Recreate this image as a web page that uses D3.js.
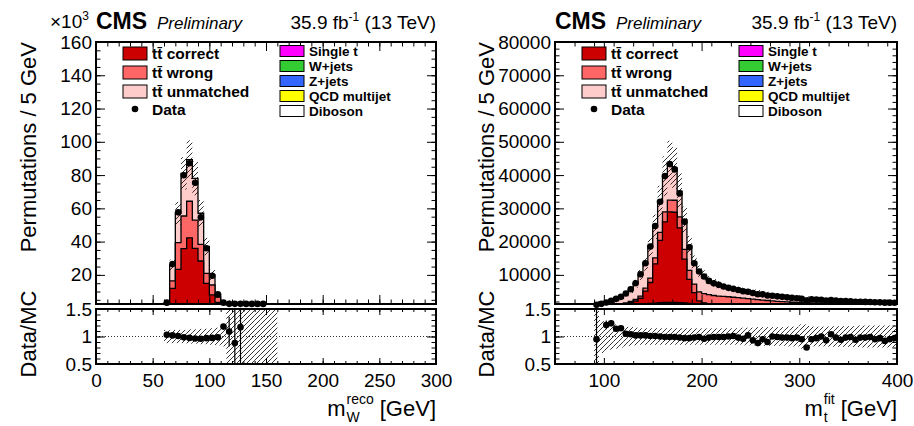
<!DOCTYPE html>
<html>
<head>
<meta charset="utf-8">
<script src="https://cdn.jsdelivr.net/npm/d3@7/dist/d3.min.js"></script>
<style>
body { margin: 0; background: #fff; }
text { font-family: "Liberation Sans", Arial, Helvetica, sans-serif; }
</style>
</head>
<body>
<svg id="chart" width="914" height="426"></svg>
<script>

/******************** left panel: m_W reco, 5 GeV bins, x10^3 ********************/
var wLow = [60,65,70,75,80,85,90,95,100,105,110,115,120,125,130,135,140,145,150,155];
var wData = [3.3,26.5,57.6,79.9,87.1,75.4,54.6,36.0,19.5,8.3,3.3,2.6,2.6,2.6,2.55,2.55,2.55,2.55,null,null];
var wCorrect = [1.0,11.2,22,34,40,34,27,14,7.5,3.3,0.7,0.4,0.25,0.15,0.1,0.08,0.05,0.04,0.03,0.02];
var wWrong = [0.7,4.5,16,19.6,22,17,10,6,6,3.2,1.0,0.6,0.4,0.3,0.2,0.15,0.1,0.08,0.05,0.05];
var wUnmatched = [1.4,9.6,17.7,25.6,25.0,25.1,18.7,16.2,6.1,1.7,1.0,1.3,0.9,0.7,0.6,0.5,0.3,0.3,0.2,0.1];
var wSingleT = [0.1,0.5,0.9,1.2,1.5,1.3,0.9,0.6,0.3,0.15,0.08,0.05,0.03,0.02,0.02,0.01,0.01,0.01,0.01,0.01];
var wWjets = [0.02,0.1,0.15,0.2,0.25,0.2,0.15,0.1,0.05,0.03,0.02,0.01,0.01,0,0,0,0,0,0,0];
var wZjets = [0.01,0.03,0.05,0.06,0.07,0.06,0.05,0.03,0.02,0.01,0.01,0,0,0,0,0,0,0,0,0];
var wQcd = [0,0.1,0.2,0.3,0.4,0.3,0.2,0.1,0.05,0,0,0,0,0,0,0,0,0,0,0];
var wDiboson = [0,0.02,0.04,0.05,0.05,0.05,0.04,0.02,0.01,0,0,0,0,0,0,0,0,0,0,0];
var wUnc = [0.12,0.12,0.12,0.12,0.13,0.13,0.14,0.14,0.15,0.16,0.18,1,1,1,1,1,1,1,1,1];
var wRatio = [1.03,1.02,1.01,0.985,0.975,0.965,0.96,0.97,0.975,0.985,1.18,1.09,0.88,1.17,null,null,null,null,null,null];
var wRatioErr = [0.01,0.01,0.01,0.01,0.01,0.01,0.01,0.01,0.01,0.02,0.04,0.27,0.7,0.8,null,null,null,null,null,null];

/******************** right panel: m_t fit, 5 GeV bins ********************/
var tLow = [90,95,100,105,110,115,120,125,130,135,140,145,150,155,160,165,170,175,180,185,
            190,195,200,205,210,215,220,225,230,235,240,245,250,255,260,265,270,275,280,285,
            290,295,300,305,310,315,320,325,330,335,340,345,350,355,360,365,370,375,380,385,390,395];
var tData = [1000,1300,1700,2200,2800,3400,4400,5700,7500,10200,
             13500,18500,24700,32000,39700,43300,41700,34500,26000,18300,
             13500,11000,9500,8200,7500,7000,6500,6100,5800,5450,
             5100,4950,4550,4200,4150,3800,3750,3550,3400,3250,
             3100,2980,2820,2300,2700,2580,2520,2300,2400,2250,
             2120,2100,2040,1930,1930,1880,1840,1760,1740,1650,
             1650,1640];
var tCorrect = [0,20,50,100,180,300,450,700,1100,1800,
                3800,6300,11800,18700,24200,27200,27100,22500,13200,7200,
                3300,900,400,200,120,90,70,60,50,45,
                40,38,36,34,32,30,28,26,24,22,
                20,19,18,17,16,15,14,13,12,11,
                10,10,9,9,8,8,7,7,6,6,
                5,5];
var tWrong = [30,50,80,120,170,230,300,380,480,620,
              900,1300,1800,2400,3000,3500,3600,3300,2900,2700,
              2600,2700,2750,2700,2600,2500,2450,2400,2300,2200,
              2080,1960,1850,1740,1640,1540,1450,1360,1280,1200,
              1130,1100,1080,1070,1060,1050,1040,1030,1020,1010,
              1000,990,980,970,960,950,940,930,920,910,
              900,890];
var tUnmatched = [740,810,820,1010,1470,1690,2610,3470,4720,6410,
                  7240,9300,9320,9250,10770,11270,9690,7750,8880,7520,
                  6530,6240,5540,4320,3770,3430,3040,2670,2460,2420,
                  2330,2020,2200,2220,1950,1930,1570,1520,1500,1450,
                  1430,1320,1290,1250,1220,1070,960,940,800,810,
                  800,710,650,670,600,570,540,550,510,530,
                  500,470];
var tSingleT = [150,200,250,300,350,400,450,500,560,620,
                680,740,800,860,900,920,900,860,800,740,
                690,650,620,590,560,540,520,500,480,465,
                450,435,420,405,390,380,370,360,350,340,
                330,320,310,300,290,282,275,268,260,252,
                245,238,230,224,218,212,206,200,195,190,
                185,180];
var tQcd = [60,80,100,120,150,180,210,240,280,320,
            360,400,440,470,490,500,490,470,440,410,
            380,360,340,320,300,290,280,270,260,250,
            240,232,224,216,208,200,193,186,179,172,
            166,160,154,148,143,138,133,128,124,120,
            116,112,108,104,100,97,94,91,88,85,
            82,80];
var tWjets = [40,50,60,70,80,90,100,110,125,140,
              155,170,185,200,210,215,210,200,190,180,
              170,160,152,145,138,132,126,120,115,110,
              106,102,98,94,90,87,84,81,78,75,
              72,70,68,66,64,62,60,58,56,54,
              52,50,49,48,47,46,45,44,43,42,
              41,40];
var tZjets = [20,25,30,35,40,45,50,55,60,65,
              70,75,80,85,90,92,90,85,80,76,
              72,68,65,62,59,56,54,52,50,48,
              46,44,42,40,39,38,37,36,35,34,
              33,32,31,30,29,28,27,26,25,24,
              23,22,22,21,21,20,20,19,19,18,
              18,17];
var tDiboson = [10,12,14,16,18,20,22,24,26,28,
                30,32,34,36,38,40,40,39,38,37,
                36,35,34,33,32,31,30,29,28,27,
                26,25,24,23,22,21,20,20,19,19,
                18,18,17,17,16,16,15,15,14,14,
                13,13,12,12,12,11,11,11,10,10,
                10,10];
var tUnc = [1,0.3,0.26,0.24,0.22,0.2,0.18,0.17,0.16,0.15,
            0.15,0.15,0.15,0.15,0.15,0.15,0.15,0.15,0.15,0.15,
            0.15,0.15,0.15,0.15,0.15,0.15,0.15,0.15,0.15,0.15,
            0.16,0.16,0.16,0.17,0.17,0.17,0.17,0.17,0.17,0.18,
            0.18,0.18,0.22,0.22,0.18,0.18,0.18,0.18,0.19,0.19,
            0.19,0.19,0.19,0.19,0.2,0.2,0.2,0.2,0.2,0.2,
            0.2,0.2];
var tRatio = [0.95,null,1.21,1.24,1.14,1.15,1.05,1.04,1.02,1.02,
              1.02,1.01,1.01,1.0,0.99,0.99,0.99,0.98,0.97,0.97,
              0.98,0.99,0.96,0.98,0.99,0.99,0.99,1.0,1.01,0.98,
              0.96,1.02,0.93,0.88,0.95,0.90,1.0,0.99,0.98,0.98,
              0.97,0.98,0.95,0.8,0.95,0.97,1.0,0.93,1.04,0.98,
              0.94,0.98,0.99,0.94,0.98,0.98,0.99,0.95,0.97,0.92,
              0.95,0.97];
var tRatioErr = [1.0,null,0.08,0.06,0.05,0.04,0.03,0.03,0.02,0.02,
                 0.015,0.01,0.01,0.01,0.01,0.01,0.01,0.01,0.01,0.01,
                 0.01,0.01,0.015,0.015,0.015,0.015,0.02,0.02,0.02,0.02,
                 0.02,0.02,0.02,0.02,0.02,0.02,0.02,0.02,0.025,0.025,
                 0.025,0.025,0.025,0.03,0.03,0.03,0.03,0.03,0.03,0.03,
                 0.03,0.03,0.03,0.03,0.035,0.035,0.035,0.035,0.035,0.035,
                 0.035,0.035];

// tick labels
var wXTicks = [0,50,100,150,200,250,300];
var wYTicks = [20,40,60,80,100,120,140,160];
var tXTicks = [100,200,300,400];
var tYTicks = [10000,20000,30000,40000,50000,60000,70000,80000];
var rYTicks = [0.5,1,1.5];

/******************** drawing ********************/
var svg = d3.select("#chart");
var defs = svg.append("defs");
defs.append("pattern").attr("id", "hatch")
    .attr("patternUnits", "userSpaceOnUse")
    .attr("width", 5).attr("height", 5)
  .append("path")
    .attr("d", "M-1,1L1,-1M0,5L5,0M4,6L6,4")
    .attr("stroke", "#000").attr("stroke-width", 0.8);

var mainTop = 42, mainBottom = 304, ratioTop = 309, ratioBottom = 364;
var keys = ["diboson", "qcd", "zjets", "wjets", "singlet", "correct", "wrong", "unmatched"];
var fills = { correct: "#cc0000", wrong: "#ff6666", unmatched: "#ffcccc", singlet: "#ff00ff",
              wjets: "#33cc33", zjets: "#3366ff", qcd: "#ffff00", diboson: "#ffffff" };

function steps(p, x, y, tops, base) {
    var d = "M" + x(p.low[0]) + "," + base;
    tops.forEach(function (v, i) {
        d += "L" + x(p.low[i]) + "," + y(v) + "L" + x(p.low[i] + p.bw) + "," + y(v);
    });
    return d + "L" + x(p.low[p.low.length - 1] + p.bw) + "," + base;
}

function axisFont(g, size) {
    g.attr("font-family", "'Liberation Sans', Arial, sans-serif").attr("font-size", size);
    g.select(".domain").remove();
    g.selectAll("line").attr("stroke-width", 1);
}

function drawPanel(p) {
    var x = d3.scaleLinear().domain(p.xDomain).range([p.x0, p.x1]);
    var y = d3.scaleLinear().domain(p.yDomain).range([mainBottom, mainTop]);
    var yr = d3.scaleLinear().domain([0.5, 1.5]).range([ratioBottom, ratioTop]);
    var g = svg.append("g");

    defs.append("clipPath").attr("id", "cm" + p.id).append("rect")
        .attr("x", p.x0).attr("y", mainTop).attr("width", p.x1 - p.x0).attr("height", mainBottom - mainTop);
    defs.append("clipPath").attr("id", "cr" + p.id).append("rect")
        .attr("x", p.x0).attr("y", ratioTop).attr("width", p.x1 - p.x0).attr("height", ratioBottom - ratioTop);

    // stacked MC
    var rows = p.low.map(function (lo, i) {
        var r = { lo: lo };
        keys.forEach(function (k) { r[k] = p.mc[k][i]; });
        return r;
    });
    var series = d3.stack().keys(keys)(rows);
    var totals = series[series.length - 1].map(function (s) { return s[1]; });
    var base = mainBottom + 20;

    var gm = g.append("g").attr("clip-path", "url(#cm" + p.id + ")");
    series.slice().reverse().forEach(function (s) {
        var tops = s.map(function (d) { return d[1]; });
        gm.append("path").attr("d", steps(p, x, y, tops, base) + "Z")
            .attr("fill", fills[s.key]).attr("stroke", "none");
        gm.append("path").attr("d", steps(p, x, y, tops, base))
            .attr("fill", "none").attr("stroke", "#000").attr("stroke-width", 1.3);
    });

    // MC uncertainty band
    gm.selectAll("rect.unc").data(p.low).enter().append("rect")
        .attr("x", function (d) { return x(d); })
        .attr("width", function (d) { return x(d + p.bw) - x(d); })
        .attr("y", function (d, i) { return y(totals[i] * (1 + p.unc[i])); })
        .attr("height", function (d, i) {
            var lo = p.unc[i] >= 1 ? base : y(totals[i] * (1 - p.unc[i]));
            return Math.max(0, lo - y(totals[i] * (1 + p.unc[i])));
        })
        .attr("fill", "url(#hatch)");

    // data points
    g.selectAll("circle.data").data(p.data.map(function (v, i) { return [p.low[i] + p.bw / 2, v]; })
            .filter(function (d) { return d[1] !== null; }))
        .enter().append("circle")
        .attr("cx", function (d) { return x(d[0]); })
        .attr("cy", function (d) { return Math.min(y(d[1]), mainBottom + 1); })
        .attr("r", 3.3).attr("fill", "#000");

    // ratio panel
    var gr = g.append("g").attr("clip-path", "url(#cr" + p.id + ")");
    gr.selectAll("rect").data(p.low).enter().append("rect")
        .attr("x", function (d) { return x(d); })
        .attr("width", function (d) { return x(d + p.bw) - x(d); })
        .attr("y", function (d, i) { return p.unc[i] >= 1 ? ratioTop : yr(1 + p.unc[i]); })
        .attr("height", function (d, i) {
            return p.unc[i] >= 1 ? ratioBottom - ratioTop : yr(1 - p.unc[i]) - yr(1 + p.unc[i]);
        })
        .attr("fill", "url(#hatch)");
    gr.append("line").attr("x1", p.x0).attr("x2", p.x1).attr("y1", yr(1)).attr("y2", yr(1))
        .attr("stroke", "#000").attr("stroke-width", 0.8).attr("stroke-dasharray", "1,2");
    var pts = p.ratio.map(function (v, i) { return [p.low[i] + p.bw / 2, v, p.ratioErr[i]]; })
        .filter(function (d) { return d[1] !== null; });
    gr.selectAll("line.err").data(pts).enter().append("line")
        .attr("x1", function (d) { return x(d[0]); }).attr("x2", function (d) { return x(d[0]); })
        .attr("y1", function (d) { return yr(d[1] + d[2]); })
        .attr("y2", function (d) { return yr(d[1] - d[2]); })
        .attr("stroke", "#000").attr("stroke-width", 1.2);
    gr.selectAll("circle").data(pts).enter().append("circle")
        .attr("cx", function (d) { return x(d[0]); })
        .attr("cy", function (d) { return yr(d[1]); })
        .attr("r", 3.3).attr("fill", "#000");

    // frames
    [[mainTop, mainBottom], [ratioTop, ratioBottom]].forEach(function (f) {
        g.append("rect").attr("x", p.x0).attr("y", f[0]).attr("width", p.x1 - p.x0).attr("height", f[1] - f[0])
            .attr("fill", "none").attr("stroke", "#000").attr("stroke-width", 2);
    });

    // ticks: main panel
    var yMinor = d3.range(p.yMinorStep, p.yDomain[1], p.yMinorStep).filter(function (v) { return v > p.yDomain[0]; });
    var ax;
    ax = g.append("g").attr("transform", "translate(" + p.x0 + ",0)")
        .call(d3.axisLeft(y).tickValues(p.yTicks).tickSize(-9).tickPadding(4).tickFormat(d3.format("d")));
    axisFont(ax, 19);
    ax = g.append("g").attr("transform", "translate(" + p.x0 + ",0)")
        .call(d3.axisLeft(y).tickValues(yMinor).tickSize(-4.5).tickFormat(""));
    axisFont(ax, 19);
    ax = g.append("g").attr("transform", "translate(" + p.x1 + ",0)")
        .call(d3.axisRight(y).tickValues(p.yTicks).tickSize(-9).tickFormat(""));
    axisFont(ax, 19);
    ax = g.append("g").attr("transform", "translate(" + p.x1 + ",0)")
        .call(d3.axisRight(y).tickValues(yMinor).tickSize(-4.5).tickFormat(""));
    axisFont(ax, 19);

    var xMinor = d3.range(p.xDomain[0], p.xDomain[1] + 0.1, p.xMinorStep);
    [[mainTop, d3.axisTop, 9, 4.5], [mainBottom, d3.axisBottom, 9, 4.5],
     [ratioTop, d3.axisTop, 6, 3], [ratioBottom, d3.axisBottom, 6, 3]].forEach(function (t) {
        ax = g.append("g").attr("transform", "translate(0," + t[0] + ")")
            .call(t[1](x).tickValues(p.xTicks).tickSize(-t[2]).tickFormat(""));
        axisFont(ax, 19);
        ax = g.append("g").attr("transform", "translate(0," + t[0] + ")")
            .call(t[1](x).tickValues(xMinor).tickSize(-t[3]).tickFormat(""));
        axisFont(ax, 19);
    });
    ax = g.append("g").attr("transform", "translate(0," + ratioBottom + ")")
        .call(d3.axisBottom(x).tickValues(p.xTicks).tickSize(0).tickPadding(10).tickFormat(d3.format("d")));
    axisFont(ax, 19);

    // ticks: ratio panel
    var rMinor = d3.range(0.6, 1.45, 0.1);
    ax = g.append("g").attr("transform", "translate(" + p.x0 + ",0)")
        .call(d3.axisLeft(yr).tickValues(rYTicks).tickSize(-9).tickPadding(4).tickFormat(d3.format("")));
    axisFont(ax, 19);
    ax = g.append("g").attr("transform", "translate(" + p.x0 + ",0)")
        .call(d3.axisLeft(yr).tickValues(rMinor).tickSize(-4.5).tickFormat(""));
    axisFont(ax, 19);
    ax = g.append("g").attr("transform", "translate(" + p.x1 + ",0)")
        .call(d3.axisRight(yr).tickValues(rYTicks).tickSize(-9).tickFormat(""));
    axisFont(ax, 19);
    ax = g.append("g").attr("transform", "translate(" + p.x1 + ",0)")
        .call(d3.axisRight(yr).tickValues(rMinor).tickSize(-4.5).tickFormat(""));
    axisFont(ax, 19);

    // axis titles
    g.append("text").attr("transform", "translate(" + p.yTitleX + "," + mainTop + ") rotate(-90)")
        .attr("text-anchor", "end").attr("font-size", 22).text("Permutations / 5 GeV");
    g.append("text").attr("transform", "translate(" + p.yTitleX + ",334) rotate(-90)")
        .attr("text-anchor", "middle").attr("font-size", 22).text("Data/MC");

    var gev = g.append("text").attr("x", p.x1).attr("y", 416).attr("text-anchor", "end")
        .attr("font-size", 22).text("[GeV]");
    var gevW = gev.node().getComputedTextLength();
    var sup = g.append("text").attr("y", 404).attr("font-size", 14).text(p.sup);
    var sub = g.append("text").attr("y", 422).attr("font-size", 14).text(p.sub);
    var sw = Math.max(sup.node().getComputedTextLength(), sub.node().getComputedTextLength());
    var sx = p.x1 - gevW - 6 - sw;
    sup.attr("x", sx);
    sub.attr("x", sx);
    g.append("text").attr("x", sx - 1).attr("y", 416).attr("text-anchor", "end")
        .attr("font-size", 22).text("m");

    // header
    g.append("text").attr("x", p.x0).attr("y", 29).attr("font-size", 23).attr("font-weight", "bold").text("CMS");
    g.append("text").attr("x", p.x0 + 61).attr("y", 29).attr("font-size", 17).attr("font-style", "italic").text("Preliminary");
    var lumi = g.append("text").attr("x", p.x1).attr("y", 29).attr("text-anchor", "end").attr("font-size", 19);
    lumi.append("tspan").text("35.9 fb");
    lumi.append("tspan").attr("font-size", 12).attr("dy", -8).text("-1");
    lumi.append("tspan").attr("dy", 8).text(" (13 TeV)");
    if (p.exponent) {
        var ex = g.append("text").attr("x", 50).attr("y", 28).attr("font-size", 19);
        ex.append("tspan").text("\u00d710");
        ex.append("tspan").attr("font-size", 12).attr("dy", -8).text("3");
    }

    // legend
    var dx = p.x0 - 96;
    var lg = g.append("g").attr("transform", "translate(" + dx + ",0)").attr("font-weight", "bold");
    [["correct", "t\u0074\u0304 correct", 53.5], ["wrong", "t\u0074\u0304 wrong", 72.5],
     ["unmatched", "t\u0074\u0304 unmatched", 91.5]].forEach(function (e) {
        lg.append("rect").attr("x", 123).attr("y", e[2] - 6.5).attr("width", 24).attr("height", 13)
            .attr("fill", fills[e[0]]).attr("stroke", "#000").attr("stroke-width", 1);
        lg.append("text").attr("x", 152).attr("y", e[2] + 5.5).attr("font-size", 15.5).text(e[1]);
    });
    lg.append("circle").attr("cx", 135).attr("cy", 109).attr("r", 3.3).attr("fill", "#000");
    lg.append("text").attr("x", 152).attr("y", 114.5).attr("font-size", 15.5).text("Data");
    [["singlet", "Single t", 51], ["wjets", "W+jets", 66], ["zjets", "Z+jets", 81],
     ["qcd", "QCD multijet", 96], ["diboson", "Diboson", 111]].forEach(function (e) {
        lg.append("rect").attr("x", 280).attr("y", e[2] - 5.5).attr("width", 24).attr("height", 11)
            .attr("fill", fills[e[0]]).attr("stroke", "#000").attr("stroke-width", 1);
        lg.append("text").attr("x", 309).attr("y", e[2] + 5).attr("font-size", 13.5).text(e[1]);
    });
}

drawPanel({
    id: "w", x0: 96, x1: 436, xDomain: [0, 300], yDomain: [2.5, 160],
    low: wLow, bw: 5, data: wData, unc: wUnc, ratio: wRatio, ratioErr: wRatioErr,
    mc: { correct: wCorrect, wrong: wWrong, unmatched: wUnmatched, singlet: wSingleT,
          wjets: wWjets, zjets: wZjets, qcd: wQcd, diboson: wDiboson },
    xTicks: wXTicks, xMinorStep: 10, yTicks: wYTicks, yMinorStep: 5,
    yTitleX: 36, sup: "reco", sub: "W", exponent: true
});

drawPanel({
    id: "t", x0: 555, x1: 897, xDomain: [50, 400], yDomain: [1250, 80000],
    low: tLow, bw: 5, data: tData, unc: tUnc, ratio: tRatio, ratioErr: tRatioErr,
    mc: { correct: tCorrect, wrong: tWrong, unmatched: tUnmatched, singlet: tSingleT,
          wjets: tWjets, zjets: tZjets, qcd: tQcd, diboson: tDiboson },
    xTicks: tXTicks, xMinorStep: 20, yTicks: tYTicks, yMinorStep: 2000,
    yTitleX: 494, sup: "fit", sub: "t", exponent: false
});
</script>
</body>
</html>
